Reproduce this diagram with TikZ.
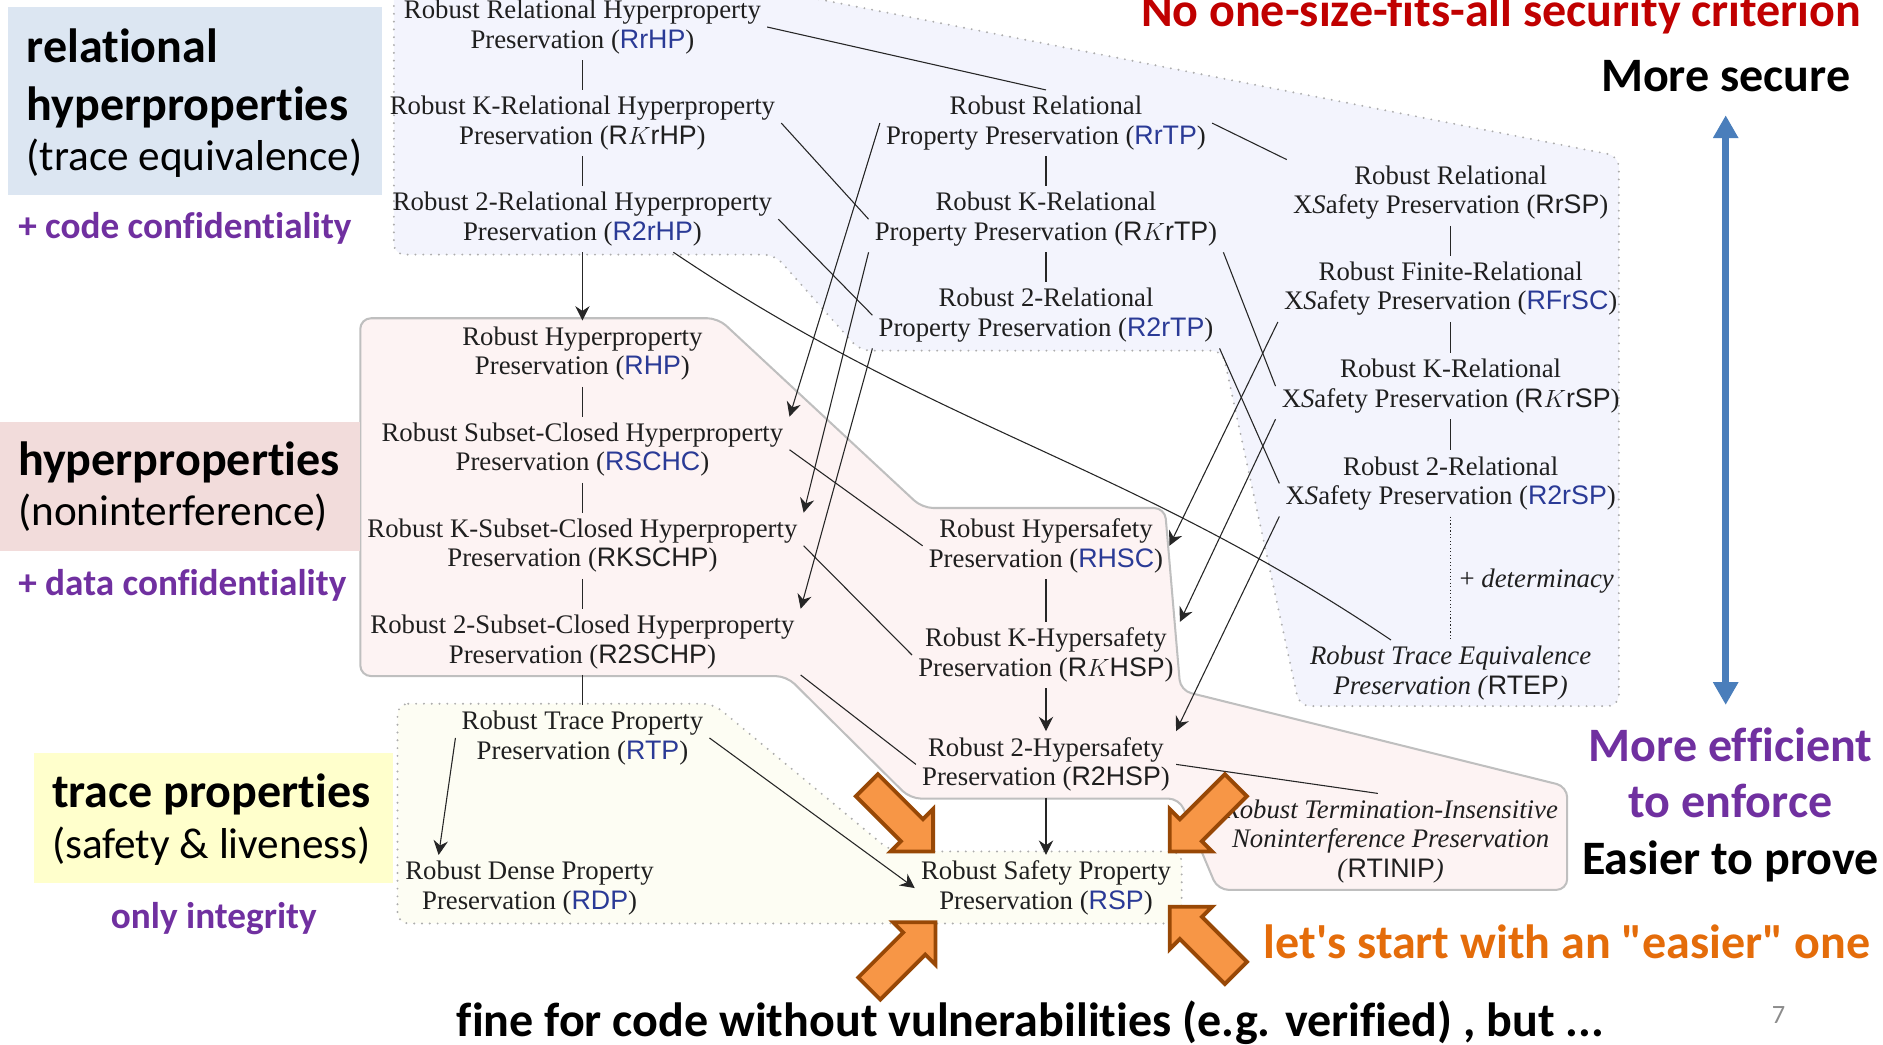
\documentclass[tikz,border=0pt]{standalone}
\usepackage{fontspec}
\setmainfont{Liberation Serif}
\setsansfont{Liberation Sans}
\newfontfamily\slidefont[Ligatures={TeXOff,NoCommon}]{Carlito}
\usepackage{xcolor}
\usepackage{tikz}
\usetikzlibrary{arrows.meta,positioning,calc}

\definecolor{acro}{RGB}{42,58,150}
\definecolor{relfill}{RGB}{243,244,253}
\definecolor{hypfill}{RGB}{253,243,243}
\definecolor{trfill}{RGB}{253,253,243}
\definecolor{labblue}{RGB}{220,230,242}
\definecolor{labpink}{RGB}{242,220,219}
\definecolor{labyellow}{RGB}{255,255,204}
\definecolor{slidepurple}{RGB}{112,48,160}
\definecolor{slidered}{RGB}{192,0,0}
\definecolor{slideorange}{RGB}{228,108,10}
\definecolor{orfill}{RGB}{247,150,70}
\definecolor{ordraw}{RGB}{152,72,6}
\definecolor{sidearrow}{RGB}{74,126,187}

\newcommand{\abl}[1]{\textsf{\color{acro}#1}}
\newcommand{\abk}[1]{\textsf{#1}}
\newcommand{\propsize}{\fontsize{22.3}{24.5}\selectfont}
\newcommand{\bigsize}{\fontsize{40}{46}\selectfont}
\newcommand{\regsize}{\fontsize{36}{44}\selectfont}
\newcommand{\subsize}{\fontsize{31}{36}\selectfont}
% orange block arrow: tip, direction
\newcommand{\blockarrow}[2]{%
  \begin{scope}[shift={(#1)}, rotate=#2]
    \draw[orarrow] (0,0) -- (-25,25) -- (-25,13) -- (-78,13) -- (-78,-13)
      -- (-25,-13) -- (-25,-25) -- cycle;
  \end{scope}}

\begin{document}
\begin{tikzpicture}[x=1pt, y=-1pt,
  pp/.style={align=center, inner sep=5pt, text=black!88, font=\propsize, yshift=-2.5pt},
  ln/.style={draw=black!85, line width=0.9pt},
  arr/.style={ln, -{Stealth[length=12pt, width=12pt, inset=4pt]}},
  region/.style={rounded corners=9pt},
  dotbord/.style={draw=black!32, line width=1.8pt, dash pattern=on 0pt off 6.5pt, line cap=round},
  lab/.style={font=\slidefont, inner sep=0pt},
  orarrow/.style={fill=orfill, draw=ordraw, line width=3.2pt}]
\useasboundingbox (0,0) rectangle (1568,870);

% regions
\path[region, fill=relfill, dotbord] (328,-30) -- (328,212) -- (645,212) -- (716,292)
  -- (1018,292) -- (1082,588) -- (1348,588) -- (1348,130) -- (532,-30) -- cycle;
\path[region, fill=hypfill, draw=black!25, line width=1.7pt] (300,265) -- (598,265)
  -- (768,423) -- (970,423) -- (983,575) -- (1305,655) -- (1305,741) -- (1014,741)
  -- (982,665) -- (758,665) -- (655,563) -- (300,563) -- cycle;
\path[region, fill=trfill, dotbord] (331,586) -- (594,586) -- (742,709) -- (984,709)
  -- (984,769) -- (331,769) -- cycle;

% relational hyperproperties
\node[pp] (rrhp) at (485,20) {Robust Relational Hyperproperty\\Preservation (\abl{RrHP})};
\node[pp] (rkrhp) at (485,100) {Robust K-Relational Hyperproperty\\Preservation (\abk{R$K$rHP})};
\node[pp] (r2rhp) at (485,180) {Robust 2-Relational Hyperproperty\\Preservation (\abl{R2rHP})};
\node[pp] (rrtp) at (871,100) {Robust Relational\\Property Preservation (\abl{RrTP})};
\node[pp] (rkrtp) at (871,180) {Robust K-Relational\\Property Preservation (\abk{R$K$rTP})};
\node[pp] (r2rtp) at (871,260) {Robust 2-Relational\\Property Preservation (\abl{R2rTP})};
\node[pp] (rrsp) at (1208,158) {Robust Relational\\X\textit{S}afety Preservation (\abk{RrSP})};
\node[pp] (rfrsc) at (1208,238) {Robust Finite-Relational\\X\textit{S}afety Preservation (\abl{RFrSC})};
\node[pp] (rkrsp) at (1208,319) {Robust K-Relational\\X\textit{S}afety Preservation (\abk{R$K$rSP})};
\node[pp] (r2rsp) at (1208,400) {Robust 2-Relational\\X\textit{S}afety Preservation (\abl{R2rSP})};
\node[pp] (rtep) at (1208,558) {\textit{Robust Trace Equivalence}\\\textit{Preservation (}\abk{RTEP}\textit{)}};

% hyperproperties
\node[pp] (rhp) at (485,292) {Robust Hyperproperty\\Preservation (\abl{RHP})};
\node[pp] (rschc) at (485,372) {Robust Subset-Closed Hyperproperty\\Preservation (\abl{RSCHC})};
\node[pp] (rkschp) at (485,452) {Robust K-Subset-Closed Hyperproperty\\Preservation (\abk{RKSCHP})};
\node[pp] (r2schp) at (485,532) {Robust 2-Subset-Closed Hyperproperty\\Preservation (\abk{R2SCHP})};
\node[pp] (rhsc) at (871,452) {Robust Hypersafety\\Preservation (\abl{RHSC})};
\node[pp] (rkhsp) at (871,543) {Robust K-Hypersafety\\Preservation (\abk{R$K$HSP})};
\node[pp] (r2hsp) at (871,634) {Robust 2-Hypersafety\\Preservation (\abk{R2HSP})};
\node[pp] (rtinip) at (1158,698) {\textit{Robust Termination-Insensitive}\\\textit{Noninterference Preservation}\\\textit{(}\abk{RTINIP}\textit{)}};

% trace properties
\node[pp] (rtp) at (485,612) {Robust Trace Property\\Preservation (\abl{RTP})};
\node[pp] (rdp) at (441,737) {Robust Dense Property\\Preservation (\abl{RDP})};
\node[pp] (rsp) at (871,737) {Robust Safety Property\\Preservation (\abl{RSP})};

% columns
\draw[ln] (rrhp) -- (rkrhp);
\draw[ln] (rkrhp) -- (r2rhp);
\draw[arr] (r2rhp) -- (rhp);
\draw[ln] (rhp) -- (rschc);
\draw[ln] (rschc) -- (rkschp);
\draw[ln] (rkschp) -- (r2schp);
\draw[ln] (r2schp) -- (rtp);
\draw[ln] (rrtp) -- (rkrtp);
\draw[ln] (rkrtp) -- (r2rtp);
\draw[ln] (rrsp) -- (rfrsc);
\draw[ln] (rfrsc) -- (rkrsp);
\draw[ln] (rkrsp) -- (r2rsp);
\draw[ln, dotted] (r2rsp) -- node[right, pp, inner sep=7pt, yshift=0pt] {+ \textit{determinacy}} (rtep);
\draw[ln] (rhsc) -- (rkhsp);
\draw[arr] (rkhsp) -- (r2hsp);
\draw[arr] (r2hsp) -- (rsp);

% across
\draw[ln] (rrhp.east) -- (rrtp.north);
\draw[ln] (rrtp.east) -- (rrsp.north west);
\draw[ln] (rkrhp.east) -- (rkrtp.west);
\draw[ln] (r2rhp.east) -- (r2rtp.west);
\draw[ln] (r2rhp.-20) to[out=-34, in=146] (rtep.151);
\draw[ln] (rkrtp.south east) -- (rkrsp.west);
\draw[ln] (r2rtp.south east) -- (r2rsp.west);
\draw[arr] (rrtp.west) -- (rschc.north east);
\draw[arr] (rkrtp.south west) -- (rkschp.north east);
\draw[arr] (r2rtp.south west) -- (r2schp.north east);
\draw[arr] (rfrsc.south west) -- (rhsc.east);
\draw[arr] (rkrsp.south west) -- (rkhsp.north east);
\draw[arr] (r2rsp.south west) -- (r2hsp.north east);
\draw[ln] (rschc.east) -- (rhsc.west);
\draw[ln] (rkschp.east) -- (rkhsp.west);
\draw[ln] (r2schp.south east) -- (r2hsp.west);
\draw[ln] (r2hsp.east) -- (rtinip.105);
\draw[arr] (rtp.west) -- (rdp.160);
\draw[arr] (rtp.east) -- (rsp.west);

% slide labels
\node[lab, fill=labblue, minimum width=311pt, minimum height=156pt] (relbox) at (162.5,84) {};
\node[lab, anchor=base west] (rell1) at (22,52) {\bigsize\bfseries relational};
\node[lab, anchor=base west] (rell2) at (22,100) {\bigsize\bfseries hyperproperties};
\node[lab, anchor=base west] (rell3) at (22,142) {\regsize (trace equivalence)};
\node[lab, text=slidepurple, anchor=base west] (codeconf) at (15,199) {\subsize\bfseries + code confidentiality};

\node[lab, fill=labpink, minimum width=300pt, minimum height=108pt] (hypbox) at (150,405) {};
\node[lab, anchor=base west] (hypl1) at (15,396) {\bigsize\bfseries hyperproperties};
\node[lab, anchor=base west] (hypl2) at (15,438) {\regsize (noninterference)};
\node[lab, text=slidepurple, anchor=base west] (dataconf) at (15,496) {\subsize\bfseries + data confidentiality};

\node[lab, fill=labyellow, minimum width=299pt, minimum height=108pt] (trbox) at (177.5,681) {};
\node[lab, anchor=base] (trl1) at (176,672) {\bigsize\bfseries trace properties};
\node[lab, anchor=base] (trl2) at (176,715) {\regsize (safety \& liveness)};
\node[lab, text=slidepurple, anchor=base] (integ) at (178,773) {\subsize\bfseries only integrity};

\node[lab, text=slidered, anchor=base] (title) at (1250,22) {\bigsize\bfseries No one-size-fits-all security criterion};
\node[lab, anchor=base] (secure) at (1437,76) {\bigsize\bfseries More secure};
\node[lab, text=slidepurple, anchor=base] (effic) at (1441,634) {\bigsize\bfseries More efficient};
\node[lab, text=slidepurple, anchor=base] (enforce) at (1441,681) {\bigsize\bfseries to enforce};
\node[lab, anchor=base] (easier) at (1441,728) {\bigsize\bfseries Easier to prove};
\node[lab, text=slideorange, anchor=base] (start) at (1305,798) {\bigsize\bfseries let's start with an "easier" one};
\node[lab, anchor=base] (fine) at (858,863) {\bigsize\bfseries fine for code without vulnerabilities (e.g. verified) , but ...};
\node[lab, text=black!45, anchor=base] (pagenum) at (1481,852) {\fontsize{22}{26}\selectfont 7};

\coordinate (sectop) at (1437,96);
\coordinate (secbot) at (1437,587);
\draw[draw=sidearrow, fill=sidearrow, line width=5.5pt,
  {Triangle[length=19pt,width=20pt]}-{Triangle[length=19pt,width=20pt]}] (sectop) -- (secbot);

% pointers at RSP
\coordinate (ortl) at (777,709);
\coordinate (ortr) at (974,709);
\coordinate (orbl) at (779,768);
\coordinate (orbr) at (974,755);
\blockarrow{ortl}{-45}
\blockarrow{ortr}{-135}
\blockarrow{orbl}{45}
\blockarrow{orbr}{135}
\end{tikzpicture}
\end{document}
